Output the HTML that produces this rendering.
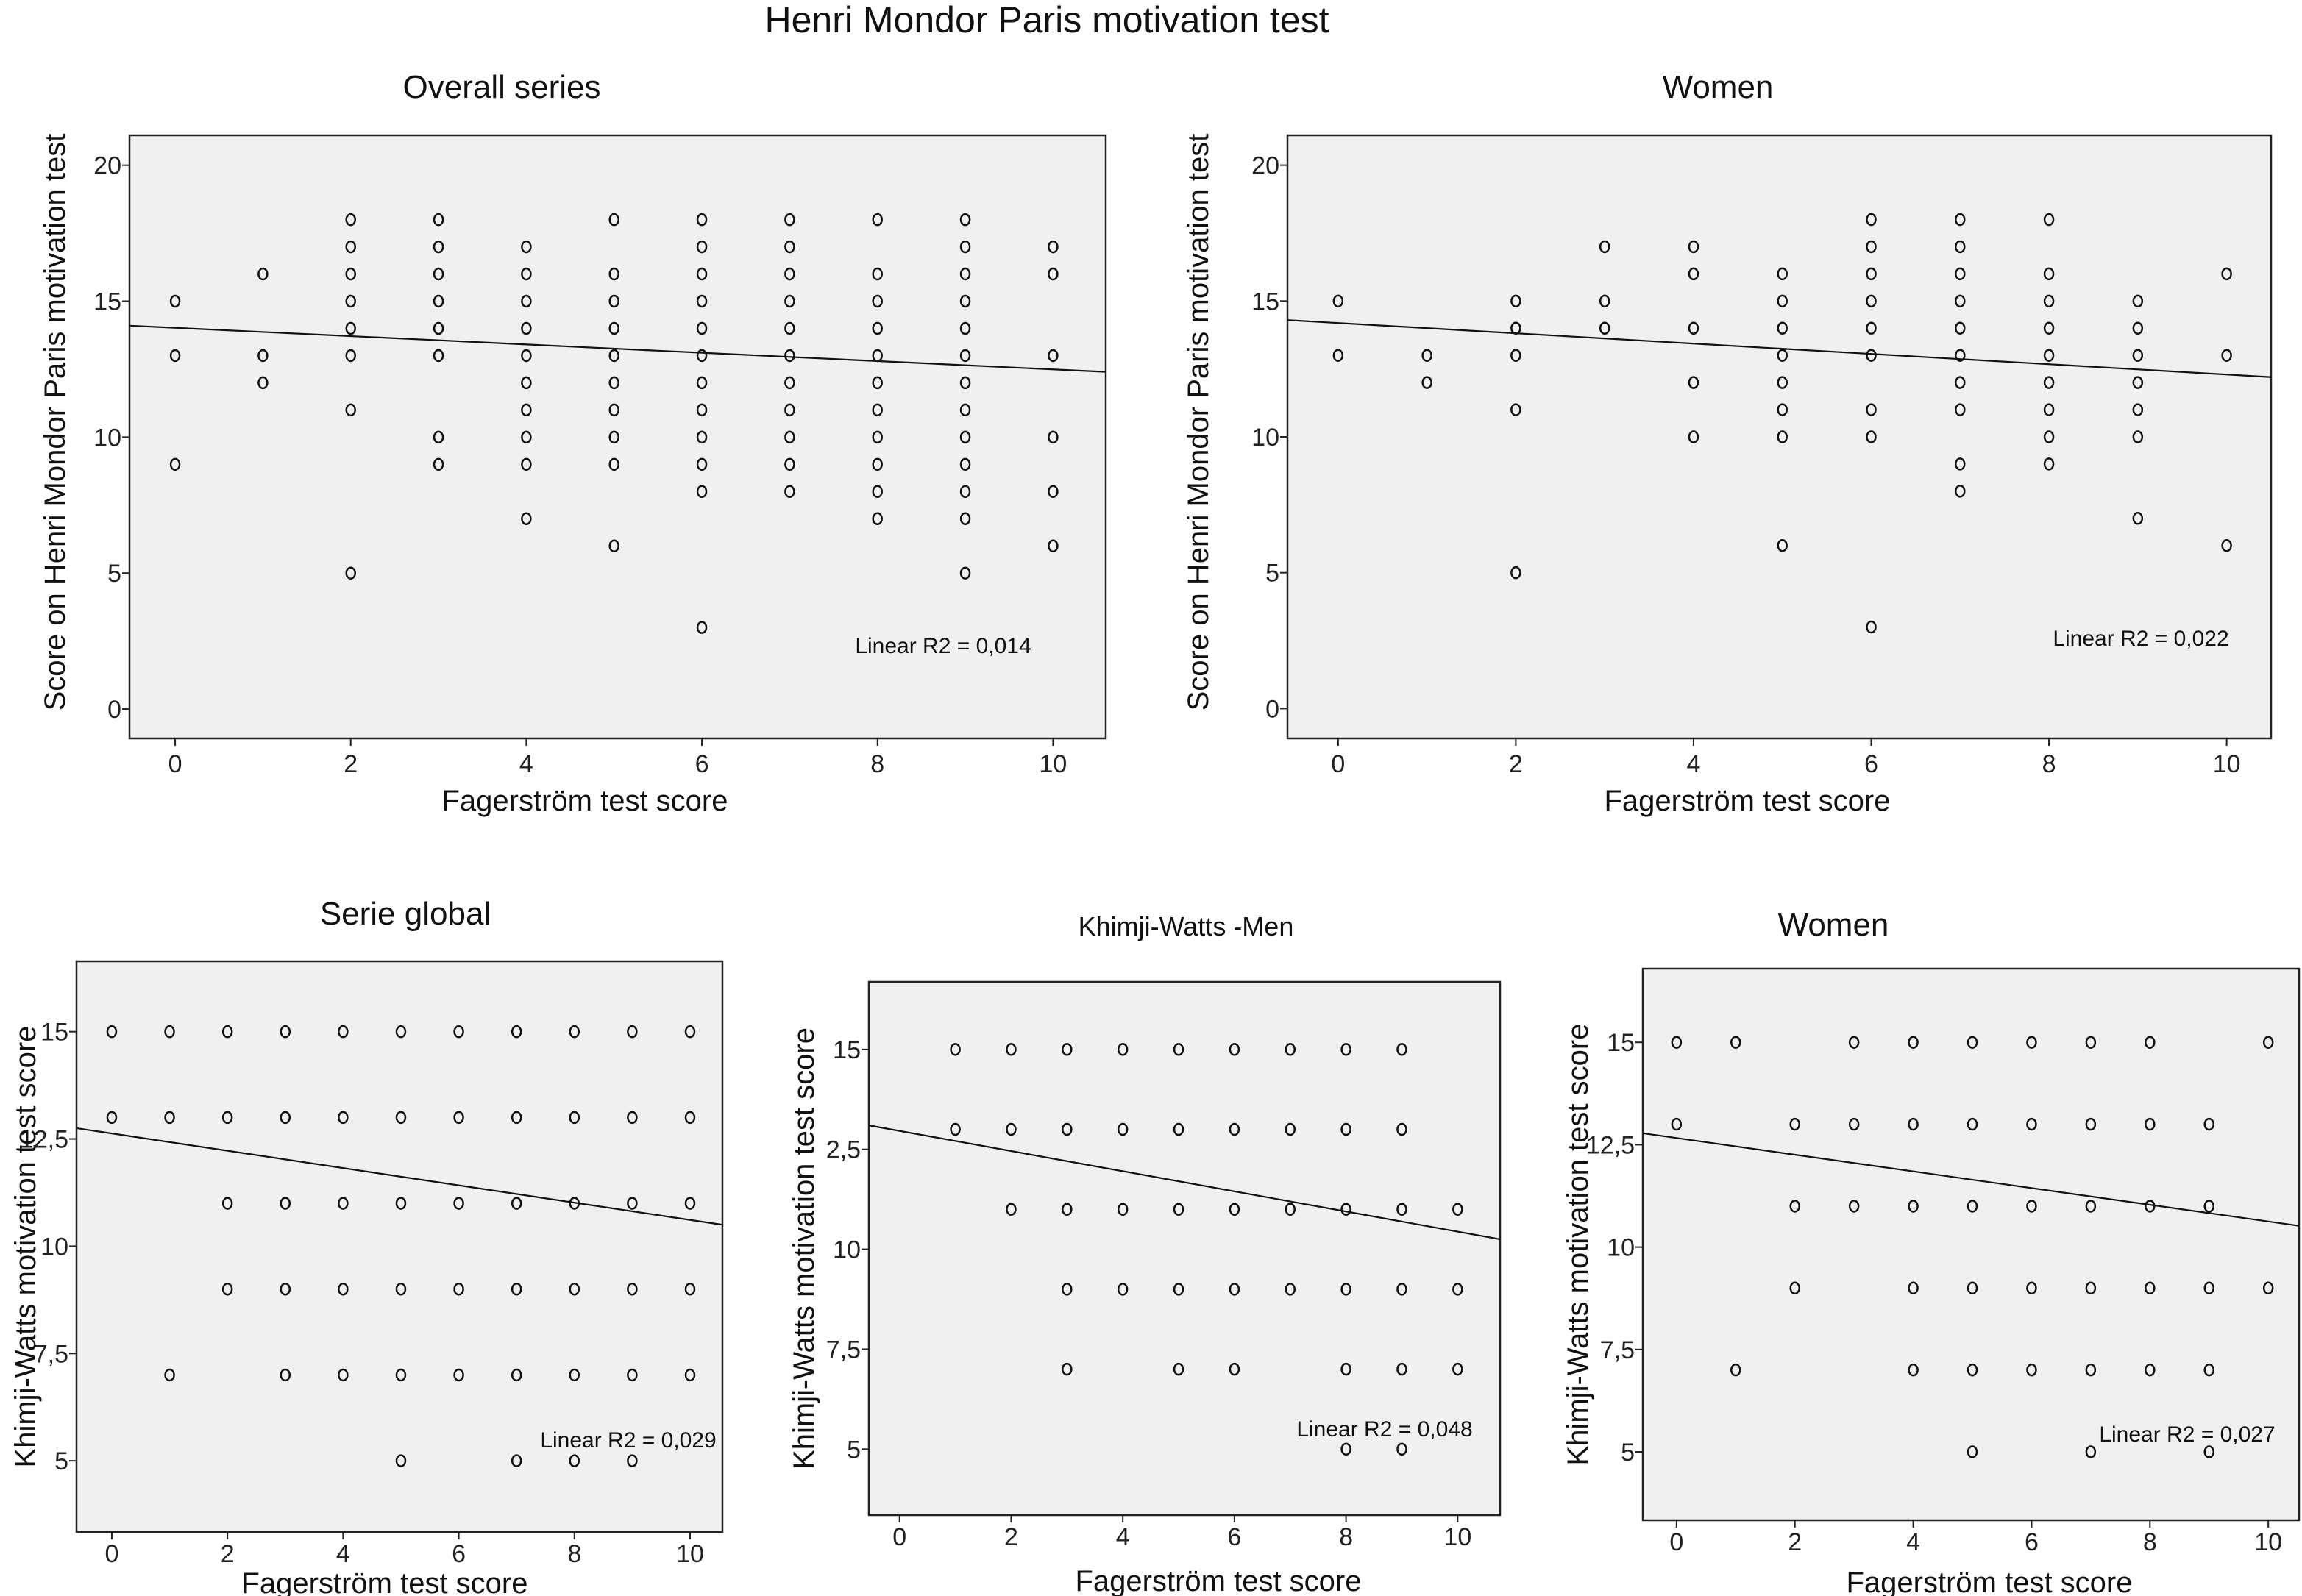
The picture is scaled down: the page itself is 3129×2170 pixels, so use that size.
<!DOCTYPE html>
<html><head><meta charset="utf-8"><style>
html,body{margin:0;padding:0;background:#fff;}
svg{display:block;font-family:"Liberation Sans",sans-serif;}
.tk{font-family:"Liberation Sans Narrow","Liberation Sans",sans-serif;}
</style></head><body>
<svg id="fig" width="3129" height="2170" viewBox="0 0 3129 2170" xmlns="http://www.w3.org/2000/svg">
<text x="1423" y="44" font-size="50" text-anchor="middle" fill="#111">Henri Mondor Paris motivation test</text>
</svg>
<script>
// ---- Data: Overall series ----
const overallX = [0,1,2,3,4,5,6,7,8,9,10];
const overallY = [
 [15,13,9],[16,13,12],[18,17,16,15,14,13,11,5],[18,17,16,15,14,13,10,9],
 [17,16,15,14,13,12,11,10,9,7],[18,16,15,14,13,12,11,10,9,6],
 [18,17,16,15,14,13,12,11,10,9,8,3],[18,17,16,15,14,13,12,11,10,9,8],
 [18,16,15,14,13,12,11,10,9,8,7],[18,17,16,15,14,13,12,11,10,9,8,7,5],[17,16,13,10,8,6]];
const overallFit = [14.1, 12.4];
// ---- Data: Women (Henri Mondor) ----
const womenHX = [0,1,2,3,4,5,6,7,8,9,10];
const womenHY = [
 [15,13],[13,12],[15,14,13,11,5],[17,15,14],[17,16,14,12,10],[16,15,14,13,12,11,10,6],
 [18,17,16,15,14,13,11,10,3],[18,17,16,15,14,13,12,11,9,8],[18,16,15,14,13,12,11,10,9],
 [15,14,13,12,11,10,7],[16,13,6]];
const womenHFit = [14.3, 12.2];
// ---- Data: Serie global ----
const globalX = [0,1,2,3,4,5,6,7,8,9,10];
const globalY = [
 [15,13],[15,13,7],[15,13,11,9],[15,13,11,9,7],[15,13,11,9,7],[15,13,11,9,7,5],
 [15,13,11,9,7],[15,13,11,9,7,5],[15,13,11,9,7,5],[15,13,11,9,7,5],[15,13,11,9,7]];
const globalFit = [12.75, 10.5];
// ---- Data: Khimji-Watts Men ----
const menX = [1,2,3,4,5,6,7,8,9,10];
const menY = [
 [15,13],[15,13,11],[15,13,11,9,7],[15,13,11,9],[15,13,11,9,7],[15,13,11,9,7],
 [15,13,11,9],[15,13,11,9,7,5],[15,13,11,9,7,5],[11,9,7]];
const menFit = [13.1, 10.25];
// ---- Data: Khimji-Watts Women ----
const womenKX = [0,1,2,3,4,5,6,7,8,9,10];
const womenKY = [
 [15,13],[15,7],[13,11,9],[15,13,11],[15,13,11,9,7],[15,13,11,9,7,5],[15,13,11,9,7],
 [15,13,11,9,7,5],[15,13,11,9,7],[13,11,9,7,5],[15,9]];
const womenKFit = [12.78, 10.52];

const topYTicks = [0,5,10,15,20];
const topYLabels = ["0","5","10","15","20"];
const botYTicks = [5,7.5,10,12.5,15];
const botYLabels = ["5","7,5","10","12,5","15"];
const menYLabels = ["5","7,5","10","2,5","15"];
const xTicks = [0,2,4,6,8,10];
const xLabels = ["0","2","4","6","8","10"];

const NS="http://www.w3.org/2000/svg";
const svg=document.getElementById('fig');
function mk(tag,attrs,parent){const e=document.createElementNS(NS,tag);for(const k in attrs)e.setAttribute(k,attrs[k]);(parent||svg).appendChild(e);return e;}

function panel(cfg){
  const g=mk('g',{});
  
  
  const sx=v=>cfg.L+(v-cfg.xmin)/(cfg.xmax-cfg.xmin)*(cfg.R-cfg.L);
  const sy=v=>cfg.B-(v-cfg.ymin)/(cfg.ymax-cfg.ymin)*(cfg.B-cfg.T);
  const bg=mk('rect',{x:cfg.L,y:cfg.T,width:cfg.R-cfg.L,height:cfg.B-cfg.T,fill:'#f0f0f0',stroke:'#222','stroke-width':2.5},g);
  
  
  const t=mk('text',{x:cfg.tx,y:cfg.ty,'font-size':cfg.tfs,'text-anchor':'middle',fill:'#111'},g);t.textContent=cfg.title;
  
  
  cfg.yt.forEach((v,i)=>{
    const y=sy(v);
    mk('line',{x1:cfg.L-10,x2:cfg.L,y1:y,y2:y,stroke:'#222','stroke-width':2},g);
    const l=mk('text',{x:cfg.L-11,y:y+12,'font-size':34,'text-anchor':'end',fill:'#222','class':'tk'},g);l.textContent=cfg.yl[i];
    
    
  });
  xTicks.forEach((v,i)=>{
    const x=sx(v);
    mk('line',{x1:x,x2:x,y1:cfg.B,y2:cfg.B+10,stroke:'#222','stroke-width':2},g);
    const l=mk('text',{x:x,y:cfg.B+cfg.xlo,'font-size':34,'text-anchor':'middle',fill:'#222','class':'tk'},g);l.textContent=xLabels[i];
    
    
  });
  const xl=mk('text',{x:cfg.xlx,y:cfg.xly,'font-size':40,'text-anchor':'middle',fill:'#111'},g);xl.textContent='Fagerström test score';
  
  
  const yl=mk('text',{x:0,y:0,'font-size':40,'text-anchor':'middle',fill:'#111',transform:`translate(${cfg.ylx},${(cfg.T+cfg.B)/2+cfg.yloff}) rotate(-90)`},g);yl.textContent=cfg.ytitle;
  
  
  cfg.xs.forEach((xv,i)=>{
    cfg.ys[i].forEach(yv=>{
      const c=mk('ellipse',{cx:sx(xv),cy:sy(yv),rx:6,ry:7.5,fill:'none',stroke:'#111','stroke-width':2.5},g);
      
      
    });
  });
  const fl=mk('line',{x1:cfg.L,y1:sy(cfg.fit[0]),x2:cfg.R,y2:sy(cfg.fit[1]),stroke:'#111','stroke-width':2.2},g);
  
  
  const r=mk('text',{x:cfg.rx,y:cfg.ry,'font-size':30,'text-anchor':'middle',fill:'#111','class':'tk'},g);r.textContent=cfg.r2;
  
  
}

panel({name:'panel-overall-series',L:176,R:1503,T:184,B:1004,xmin:-0.52,xmax:10.6,ymin:-1.08,ymax:21.1,
 title:'Overall series',tx:682,ty:133,tfs:44,yt:topYTicks,yl:topYLabels,xlo:46,xlx:795,xly:1102,ylx:88,yloff:-20,
 ytitle:'Score on Henri Mondor Paris motivation test',xs:overallX,ys:overallY,fit:overallFit,r2:'Linear R2  = 0,014',rx:1282,ry:888});
panel({name:'panel-women-henri',L:1750,R:3087,T:184,B:1004,xmin:-0.57,xmax:10.5,ymin:-1.1,ymax:21.1,
 title:'Women',tx:2335,ty:133,tfs:44,yt:topYTicks,yl:topYLabels,xlo:46,xlx:2375,xly:1102,ylx:1642,yloff:-20,
 ytitle:'Score on Henri Mondor Paris motivation test',xs:womenHX,ys:womenHY,fit:womenHFit,r2:'Linear R2  = 0,022',rx:2910,ry:878});
panel({name:'panel-serie-global',L:104,R:982,T:1307,B:2083,xmin:-0.61,xmax:10.56,ymin:3.34,ymax:16.64,
 title:'Serie global',tx:551,ty:1257,tfs:44,yt:botYTicks,yl:botYLabels,xlo:41,xlx:523,xly:2166,ylx:48,yloff:0,
 ytitle:'Khimji-Watts motivation test score',xs:globalX,ys:globalY,fit:globalFit,r2:'Linear R2  = 0,029',rx:854,ry:1968});
panel({name:'panel-khimji-men',L:1181,R:2039,T:1335,B:2060,xmin:-0.55,xmax:10.76,ymin:3.35,ymax:16.69,
 title:'Khimji-Watts -Men',tx:1612,ty:1272,tfs:36,yt:botYTicks,yl:menYLabels,xlo:41,xlx:1656,xly:2163,ylx:1106,yloff:0,
 ytitle:'Khimji-Watts motivation test score',xs:menX,ys:menY,fit:menFit,r2:'Linear R2  = 0,048',rx:1882,ry:1953});
panel({name:'panel-khimji-women',L:2233,R:3125,T:1317,B:2067,xmin:-0.57,xmax:10.52,ymin:3.33,ymax:16.8,
 title:'Women',tx:2492,ty:1272,tfs:44,yt:botYTicks,yl:botYLabels,xlo:41,xlx:2704,xly:2165,ylx:2158,yloff:0,
 ytitle:'Khimji-Watts motivation test score',xs:womenKX,ys:womenKY,fit:womenKFit,r2:'Linear R2  = 0,027',rx:2973,ry:1960});
</script>
</body></html>
